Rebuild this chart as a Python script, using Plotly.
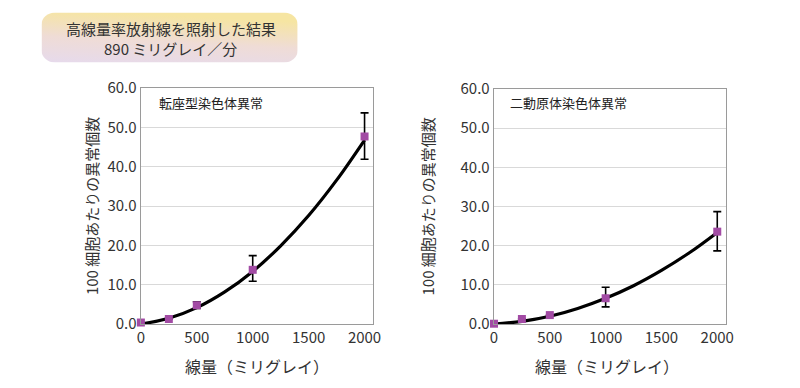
import base64
import plotly.graph_objects as go

# ---- data ----
doses = [0, 250, 500, 1000, 2000]
transloc = [0.4, 1.3, 4.8, 13.8, 47.7]
transloc_err_plus = [0.0, 0.0, 0.9, 3.6, 6.0]
transloc_err_minus = [0.0, 0.0, 0.8, 2.9, 5.8]
dicentric = [0.1, 1.3, 2.3, 6.6, 23.6]
dicentric_err_plus = [0.0, 0.0, 0.0, 2.8, 5.1]
dicentric_err_minus = [0.0, 0.0, 0.0, 2.2, 4.9]

curve_dose = [0, 250, 500, 750, 1000, 1250, 1500, 1750, 2000]
transloc_curve = [0.0, 1.5, 4.2, 8.2, 13.4, 19.9, 27.6, 36.6, 46.8]
dicentric_curve = [0.0, 0.7, 2.0, 4.0, 6.6, 9.8, 13.7, 18.2, 23.4]

y_ticks = [0, 10, 20, 30, 40, 50, 60]
x_ticks = [0, 500, 1000, 1500, 2000]

title_lines = ["高線量率放射線を照射した結果", "890 ミリグレイ／分"]
panel_titles = ["転座型染色体異常", "二動原体染色体異常"]
y_title = "100 細胞あたりの異常個数"
x_title = "線量（ミリグレイ）"

FONT = "Noto Sans CJK JP"
MARK = "#a24ba4"
W, H = 800, 388


def px(x):
    return x / W


def py(y):
    return 1 - y / H


fig = go.Figure()

panels = [
    ("x", "y", transloc, transloc_err_plus, transloc_err_minus, transloc_curve),
    ("x2", "y2", dicentric, dicentric_err_plus, dicentric_err_minus, dicentric_curve),
]
for xa, ya, vals, ep, em, cv in panels:
    fig.add_trace(go.Scatter(
        x=curve_dose, y=cv, mode="lines", line=dict(color="black", width=3.2, shape="spline"),
        xaxis=xa, yaxis=ya, showlegend=False, hoverinfo="skip", cliponaxis=False))
    fig.add_trace(go.Scatter(
        x=doses, y=vals, mode="markers",
        marker=dict(symbol="square", size=8, color=MARK),
        error_y=dict(type="data", array=ep, arrayminus=em, color="black",
                     thickness=1.6, width=4, visible=True),
        xaxis=xa, yaxis=ya, showlegend=False, cliponaxis=False))

svg = ('<svg xmlns="http://www.w3.org/2000/svg" width="260" height="58" viewBox="0 0 260 58">'
       '<defs><linearGradient id="g" x1="0" y1="1" x2="0.25" y2="0">'
       '<stop offset="0" stop-color="#e6daec"/><stop offset="0.5" stop-color="#efdcd6"/>'
       '<stop offset="1" stop-color="#f6e5a2"/></linearGradient></defs>'
       '<rect x="0" y="0" width="260" height="58" rx="14" ry="14" fill="url(#g)"/></svg>')
src = "data:image/svg+xml;base64," + base64.b64encode(svg.encode()).decode()

axis_common = dict(showline=True, linecolor="#9a9a9a", linewidth=1, mirror=True,
                   zeroline=False, ticks="",
                   tickfont=dict(family=FONT, size=15, color="#333333"))

fig.update_layout(
    width=W, height=H, margin=dict(l=0, r=0, t=0, b=0), autosize=False,
    paper_bgcolor="white", plot_bgcolor="white",
    font=dict(family=FONT, color="#333333"),
    xaxis=dict(domain=[px(130.5), px(367)], range=[-3, 2080], tickvals=x_ticks,
               showgrid=False, anchor="y", **axis_common),
    yaxis=dict(domain=[py(321.5), py(72)], range=[0, 60], tickvals=y_ticks,
               tickformat=".1f", showgrid=True, gridcolor="#d9d9d9", gridwidth=1,
               anchor="x", **axis_common),
    xaxis2=dict(domain=[px(489), px(724.5)], range=[-3, 2075], tickvals=x_ticks,
                showgrid=False, anchor="y2", **axis_common),
    yaxis2=dict(domain=[py(321.5), py(73)], range=[0, 60], tickvals=y_ticks,
                tickformat=".1f", showgrid=True, gridcolor="#d9d9d9", gridwidth=1,
                anchor="x2", **axis_common),
    images=[dict(source=src, xref="paper", yref="paper", x=px(30), y=py(-8),
                 sizex=260 / W, sizey=53 / H, xanchor="left", yanchor="top",
                 sizing="stretch", layer="below")],
)

ann = []
ann.append(dict(text=title_lines[0], x=px(161), y=py(8.5), showarrow=False,
                font=dict(family=FONT, size=15, color="#333333")))
ann.append(dict(text=title_lines[1], x=px(161), y=py(30), showarrow=False,
                font=dict(family=FONT, size=15, color="#333333")))
for cx, t in [(147, panel_titles[0]), (504, panel_titles[1])]:
    ann.append(dict(text=t, x=px(cx), y=py(87), showarrow=False, xanchor="left",
                    font=dict(family=FONT, size=13, color="#222222")))
for cx in [81, 421.5]:
    ann.append(dict(text=y_title, x=px(cx), y=py(197), textangle=-90, showarrow=False,
                    font=dict(family=FONT, size=15, color="#333333")))
for cx in [249, 604]:
    ann.append(dict(text=x_title, x=px(cx), y=py(366), showarrow=False,
                    font=dict(family=FONT, size=16, color="#333333")))
for a in ann:
    a.update(xref="paper", yref="paper", yanchor="middle")
    a.setdefault("xanchor", "center")
fig.update_layout(annotations=ann)

fig.write_html("out.html")
